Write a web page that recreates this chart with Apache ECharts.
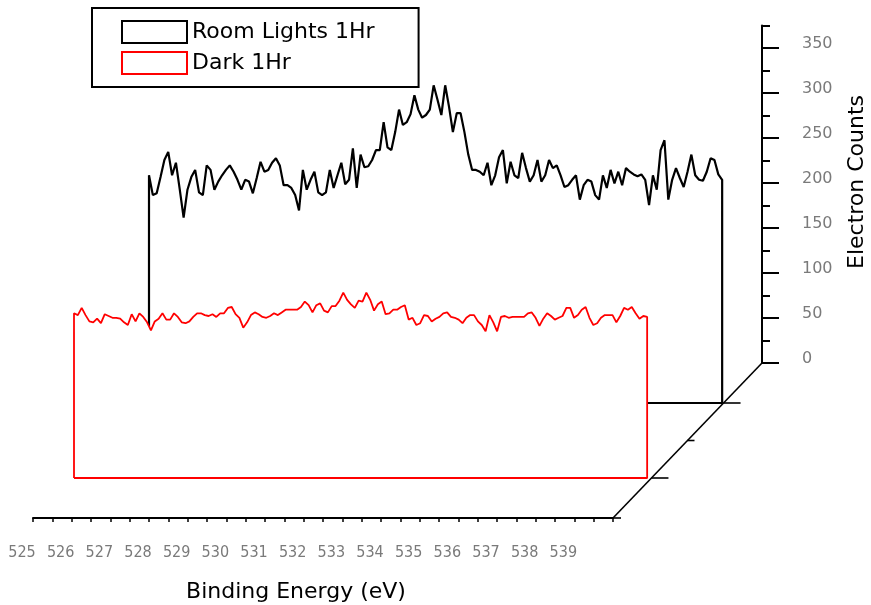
<!DOCTYPE html>
<html><head><meta charset="utf-8">
<script src="https://cdn.jsdelivr.net/npm/echarts@6/dist/echarts.min.js"></script>
<style>html,body{margin:0;padding:0;background:#fff}#c{width:871px;height:605px}</style>
</head><body><div id="c"></div>
<script>
// ---------------- data ----------------
const seriesNames = ['Room Lights 1Hr', 'Dark 1Hr'];
const energyStart = 525.0;   // eV, first sample
const energyStep = 0.1;      // eV between samples
const xAxisMin = 525, xAxisMax = 540, xTickStep = 0.5;
const yAxisMin = 0, yAxisMax = 375, yMinorStep = 25, yMajorStep = 50, yLabelMax = 350;

// Room Lights 1Hr (back trace), electron counts
const roomLights = [
 253,231,233,251,270,279,253,267,237,206,
 237,251,259,234,231,264,259,237,246,253,
 259,264,257,248,237,248,246,233,250,268,
 257,259,267,272,264,242,242,239,231,214,
 259,237,248,257,234,231,234,259,239,253,
 267,243,248,283,239,276,262,263,270,281,
 281,312,284,281,301,326,309,312,321,342,
 326,317,320,326,353,337,320,353,329,301,
 322,322,301,276,259,259,257,253,267,242,
 253,273,281,244,268,253,250,278,261,246,
 253,270,246,253,270,261,264,253,240,242,
 248,253,226,242,248,246,231,226,253,239,
 259,244,257,242,261,257,254,252,254,248,
 220,253,237,281,292,226,248,261,250,240,
 257,276,253,248,247,257,272,270,254,248
];
// Dark 1Hr (front trace), electron counts
const dark = [
 183,181,189,181,174,173,177,172,182,180,
 178,178,177,173,170,182,174,183,179,173,
 164,174,177,183,176,176,183,179,173,172,
 174,179,183,183,181,180,182,179,183,183,
 189,190,182,178,167,173,181,184,182,179,
 178,180,183,181,184,187,187,187,187,190,
 196,192,184,192,194,186,184,191,191,197,
 206,198,193,189,197,196,206,198,186,193,
 196,182,183,187,187,190,192,176,178,170,
 172,181,180,174,177,179,183,184,179,178,
 176,172,178,181,181,174,170,163,181,173,
 163,179,180,178,179,179,179,179,183,184,
 178,169,177,183,180,176,178,180,189,189,
 178,181,187,190,178,170,172,178,181,181,
 181,173,180,189,187,190,183,177,180,179
];

// ---------------- layout (pseudo-3D waterfall planes) ----------------
const PX_PER_COUNT = 0.9;
const PLOT_H = (yAxisMax - yAxisMin) * PX_PER_COUNT;
const LABEL_H = (yLabelMax - yAxisMin) * PX_PER_COUNT;
const SERIES_W = 577;
const FRONT = { left: 33, base: 518, width: 580 };   // front floor x axis
const RED = { left: 74, base: 478 };                   // Dark 1Hr plane
const BLACK = { left: 149, base: 403 };                // Room Lights plane
const BACK = { axisX: 762, base: 363 };                // back plane (value axis)

const energies = roomLights.map((_, i) => +(energyStart + i * energyStep).toFixed(2));

// closed outline: drop line, trace, drop line, floor line
function outline(vals) {
  const pts = [[energies[0], yAxisMin]];
  vals.forEach((v, i) => pts.push([energies[i], v]));
  pts.push([energies[vals.length - 1], yAxisMin]);
  pts.push([energies[0], yAxisMin]);
  return pts;
}

// depth axis (diagonal) from end of front x axis to foot of back value axis
const diagStart = [FRONT.left + FRONT.width, FRONT.base];
const diagEnd = [BACK.axisX, BACK.base];
function diagX(y) {
  const t = (diagStart[1] - y) / (diagStart[1] - diagEnd[1]);
  return diagStart[0] + t * (diagEnd[0] - diagStart[0]);
}
const depthTicks = [
  { y: FRONT.base, len: 8 },
  { y: RED.base, len: 17 },
  { y: (RED.base + BLACK.base) / 2, len: 7 },
  { y: BLACK.base, len: 17 }
];

const chart = echarts.init(document.getElementById('c'), null, { renderer: 'canvas' });
const hiddenAxis = { show: false };
const labelGray = '#7a7a7a';
const uiFont = '"DejaVu Sans", sans-serif';

const option = {
  animation: false,
  backgroundColor: '#fff',
  grid: [
    { left: FRONT.left, top: FRONT.base - 100, width: FRONT.width, height: 100 },
    { left: RED.left, top: RED.base - PLOT_H, width: SERIES_W, height: PLOT_H },
    { left: BLACK.left, top: BLACK.base - PLOT_H, width: SERIES_W, height: PLOT_H },
    { left: BACK.axisX - 60, top: BACK.base - PLOT_H, width: 60, height: PLOT_H },
    { left: BACK.axisX - 60, top: BACK.base - LABEL_H, width: 60, height: LABEL_H }
  ],
  xAxis: [
    {
      gridIndex: 0, type: 'value', min: xAxisMin, max: xAxisMax, interval: xTickStep,
      axisLine: { show: true, onZero: false, lineStyle: { color: '#000', width: 2 } },
      axisTick: { show: true, length: 4, lineStyle: { color: '#000', width: 1.5 } },
      splitLine: { show: false },
      axisLabel: {
        margin: 27, color: labelGray, fontSize: 16,
        fontFamily: '"Liberation Sans Narrow", "DejaVu Sans Condensed", "Liberation Sans", sans-serif',
        padding: [0, 22, 0, 0],
        formatter: v => (Math.abs(v - Math.round(v)) < 1e-6 && v < xAxisMax) ? String(Math.round(v)) : ''
      }
    },
    Object.assign({ gridIndex: 1, type: 'value', min: xAxisMin, max: xAxisMax }, hiddenAxis),
    Object.assign({ gridIndex: 2, type: 'value', min: xAxisMin, max: xAxisMax }, hiddenAxis),
    Object.assign({ gridIndex: 3, type: 'value', min: 0, max: 1 }, hiddenAxis),
    Object.assign({ gridIndex: 4, type: 'value', min: 0, max: 1 }, hiddenAxis)
  ],
  yAxis: [
    Object.assign({ gridIndex: 0, type: 'value', min: 0, max: 1 }, hiddenAxis),
    Object.assign({ gridIndex: 1, type: 'value', min: yAxisMin, max: yAxisMax }, hiddenAxis),
    Object.assign({ gridIndex: 2, type: 'value', min: yAxisMin, max: yAxisMax }, hiddenAxis),
    {
      gridIndex: 3, type: 'value', position: 'right', min: yAxisMin, max: yAxisMax, interval: yMinorStep,
      axisLine: { show: true, onZero: false, lineStyle: { color: '#000', width: 2 } },
      axisTick: { show: true, length: 8, lineStyle: { color: '#000', width: 2 } },
      axisLabel: { show: false }, splitLine: { show: false }
    },
    {
      gridIndex: 4, type: 'value', position: 'right', min: yAxisMin, max: yLabelMax, interval: yMajorStep,
      axisLine: { show: false, onZero: false },
      axisTick: { show: true, length: 17, lineStyle: { color: '#000', width: 2 } },
      splitLine: { show: false },
      axisLabel: {
        margin: 40, color: labelGray, fontSize: 16, align: 'left', verticalAlign: 'bottom', lineHeight: 8,
        fontFamily: uiFont
      }
    }
  ],
  legend: {
    orient: 'vertical', left: 92, top: 8,
    padding: [12, 44, 12, 29], itemGap: 7, itemWidth: 65, itemHeight: 22,
    backgroundColor: '#fff', borderColor: '#000', borderWidth: 2, borderRadius: 0,
    icon: 'rect', selectedMode: false,
    textStyle: { fontFamily: uiFont, fontSize: 22, color: '#000' },
    data: [
      { name: seriesNames[0], itemStyle: { color: '#fff', borderColor: '#000', borderWidth: 2 } },
      { name: seriesNames[1], itemStyle: { color: '#fff', borderColor: '#ff0000', borderWidth: 2 } }
    ]
  },
  series: [
    {
      name: seriesNames[0], type: 'line', xAxisIndex: 2, yAxisIndex: 2, data: outline(roomLights),
      symbol: 'none', clip: false, z: 2,
      lineStyle: { color: '#000', width: 2.2 }, itemStyle: { color: '#000' },
      areaStyle: { color: '#fff', opacity: 1, origin: 'start' }
    },
    {
      name: seriesNames[1], type: 'line', xAxisIndex: 1, yAxisIndex: 1, data: outline(dark),
      symbol: 'none', clip: false, z: 3,
      lineStyle: { color: '#ff0000', width: 1.8 }, itemStyle: { color: '#ff0000' },
      areaStyle: { color: '#fff', opacity: 1, origin: 'start' }
    }
  ],
  graphic: [
    { type: 'line', z: 1, shape: { x1: diagStart[0], y1: diagStart[1], x2: diagEnd[0], y2: diagEnd[1] },
      style: { stroke: '#000', lineWidth: 1.6 } }
  ].concat(depthTicks.map(t => ({
    type: 'line', z: 1,
    shape: { x1: diagX(t.y), y1: t.y, x2: diagX(t.y) + t.len, y2: t.y },
    style: { stroke: '#000', lineWidth: 1.6 }
  }))).concat([
    { type: 'text', x: 857, y: 182, rotation: Math.PI / 2,
      style: { text: 'Electron Counts', fill: '#000', fontSize: 22, fontFamily: uiFont,
               align: 'center', verticalAlign: 'middle', textAlign: 'center', textVerticalAlign: 'middle' } },
    { type: 'text', x: 296, y: 592,
      style: { text: 'Binding Energy (eV)', fill: '#000', fontSize: 22, fontFamily: uiFont,
               align: 'center', verticalAlign: 'middle', textAlign: 'center', textVerticalAlign: 'middle' } }
  ])
};
chart.setOption(option);
</script>
</body></html>
